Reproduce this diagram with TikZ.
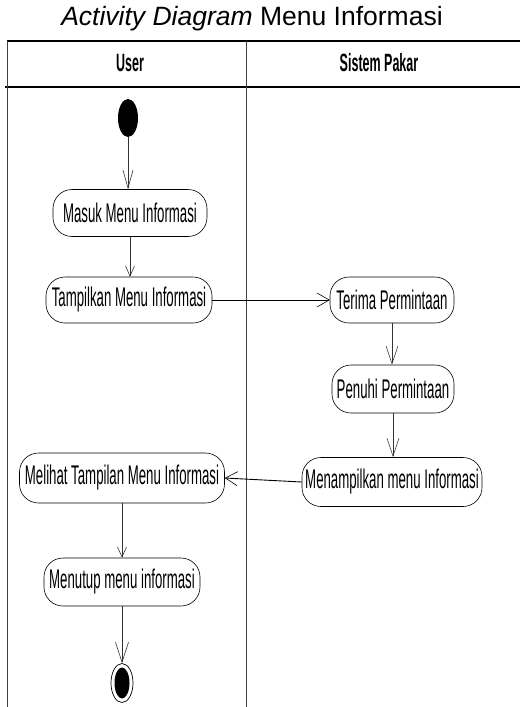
\documentclass[tikz,border=0pt]{standalone}
\usepackage{fontspec}
\setmainfont{Liberation Sans}
\newfontfamily\narrowfont[FakeStretch=0.49]{Liberation Sans}
\newfontfamily\headfont[FakeStretch=0.5]{Liberation Sans}
\usetikzlibrary{arrows.meta,shapes.geometric}
\begin{document}
\begin{tikzpicture}[x=1pt,y=-1pt,
  lane/.style={draw=black!75,line width=0.9pt},
  rule/.style={draw=black,line width=1.4pt},
  head/.style={font=\headfont\bfseries\fontsize{25}{28}\selectfont},
  act/.style={draw=black,line width=0.6pt,rounded corners=19pt,inner sep=2pt,
    font=\narrowfont\fontsize{27}{30}\selectfont,align=center},
  flow/.style={draw=black!80,line width=0.6pt},
  cross/.style={draw=black,line width=0.9pt},
  vtip/.style args={#1/#2}{-{Straight Barb[length=#1pt,width=#2pt,line width=0.6pt]}}
]
\useasboundingbox (0,0) rectangle (520,707);

% title
\node (title) at (252,19) {\fontsize{26.5}{30}\selectfont\textit{Activity Diagram} Menu Informasi};

% swimlane frame
\draw[rule] (7,41) -- (520,41);
\draw[rule] (5,87) -- (520,87);
\draw[lane] (7,41) -- (7,707);
\draw[lane] (246,41) -- (246,707);
\node (huser) [head] at (130,63) {User};
\node (hsys)  [head] at (379,63) {Sistem Pakar};

% initial and final states
\node (start) [ellipse,fill=black,minimum width=20pt,minimum height=38pt,inner sep=0pt] at (128,118) {};
\node (final) [ellipse,draw=black,line width=0.7pt,minimum width=22pt,minimum height=39pt,inner sep=0pt] at (122,683) {};
\node (finalin) [ellipse,fill=black,minimum width=15pt,minimum height=31pt,inner sep=0pt] at (122,683) {};

% activities
\node (masuk)   [act,minimum width=154pt,minimum height=47pt] at (130,213) {Masuk Menu Informasi};
\node (tampil)  [act,minimum width=166pt,minimum height=46pt] at (129,300) {Tampilkan Menu Informasi};
\node (terima)  [act,minimum width=124pt,minimum height=46pt] at (392,300) {Terima Permintaan};
\node (penuhi)  [act,minimum width=122pt,minimum height=48pt] at (393,389) {Penuhi Permintaan};
\node (menamp)  [act,minimum width=180pt,minimum height=49pt] at (392,482) {Menampilkan menu Informasi};
\node (melihat) [act,minimum width=205pt,minimum height=50pt] at (122,478) {Melihat Tampilan Menu Informasi};
\node (menutup) [act,minimum width=156pt,minimum height=48pt] at (122,582) {Menutup menu informasi};

% control flows
\draw[flow,vtip=18/10] (start.south) -- (start.south |- masuk.north);
\draw[flow,vtip=10/9] (masuk.south) -- (masuk.south |- tampil.north);
\draw[cross,vtip=12/14] (tampil.east) -- (terima.west);
\draw[flow,vtip=18/12] (terima.south) -- (terima.south |- penuhi.north);
\draw[flow,vtip=18/12] (penuhi.south) -- (penuhi.south |- menamp.north);
\draw[cross,vtip=12/14] (menamp.west) -- (melihat.east);
\draw[flow,vtip=10/9] (melihat.south) -- (menutup.north);
\draw[flow,vtip=20/13] (menutup.south) -- (final.north);
\end{tikzpicture}
\end{document}
